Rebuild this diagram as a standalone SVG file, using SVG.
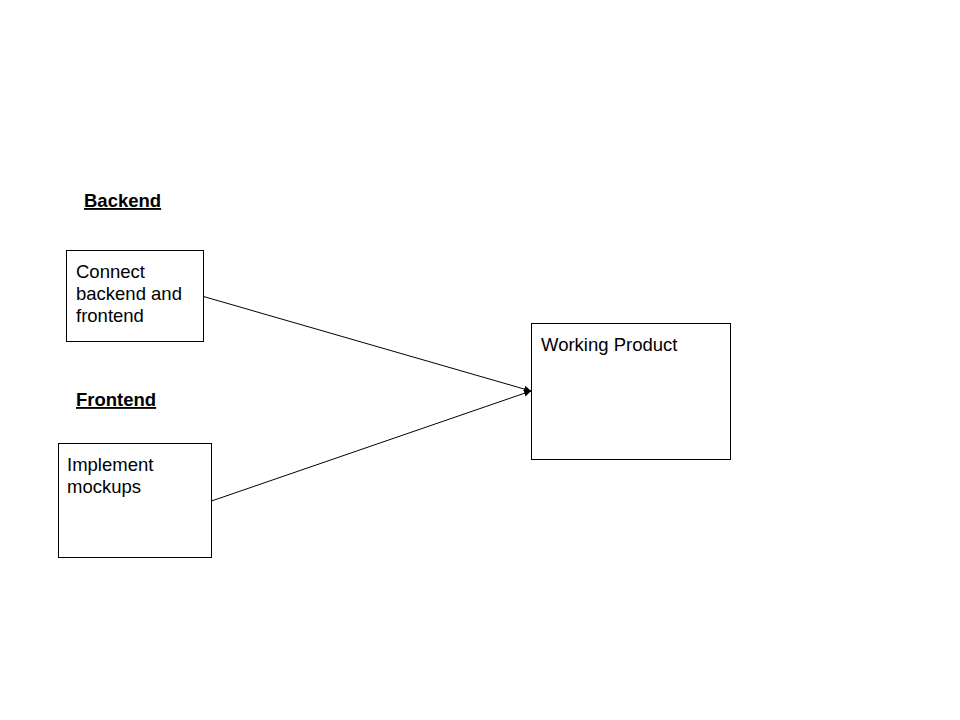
<svg xmlns="http://www.w3.org/2000/svg" width="960" height="720" viewBox="0 0 960 720">
<style>
.box{fill:#fff;stroke:#000;stroke-width:1}
.t{font-family:"Liberation Sans",Arial,sans-serif;font-size:18.5px;fill:#000}
.h{font-family:"Liberation Sans",Arial,sans-serif;font-size:18.5px;font-weight:bold;text-decoration:underline;fill:#000}
.c{stroke:#000;stroke-width:1;fill:none;marker-end:url(#ah)}
</style>
<defs>
<marker id="ah" viewBox="0 0 10 10" refX="10" refY="5" markerWidth="7" markerHeight="7" markerUnits="userSpaceOnUse" orient="auto">
<path d="M0,0 L10,5 L0,10 Z" fill="#000"/>
</marker>
</defs>
<rect width="960" height="720" fill="#fff"/>
<g id="label-backend"><text class="h" x="84" y="207">Backend</text></g>
<g id="label-frontend"><text class="h" x="76" y="406">Frontend</text></g>
<g id="connectors">
<line class="c" x1="203.5" y1="296.5" x2="531" y2="391"/>
<line class="c" x1="211.5" y1="501" x2="531" y2="391"/>
</g>
<g id="node-connect">
<rect class="box" x="66.5" y="250.5" width="137" height="91"/>
<text class="t" x="76" y="277.5">Connect</text>
<text class="t" x="76" y="299.5">backend and</text>
<text class="t" x="76" y="321.5">frontend</text>
</g>
<g id="node-implement">
<rect class="box" x="58.5" y="443.5" width="153" height="114"/>
<text class="t" x="67" y="470.5">Implement</text>
<text class="t" x="67" y="492.5">mockups</text>
</g>
<g id="node-working">
<rect class="box" x="531.5" y="323.5" width="199" height="136"/>
<text class="t" x="541" y="350.5">Working Product</text>
</g>
</svg>
